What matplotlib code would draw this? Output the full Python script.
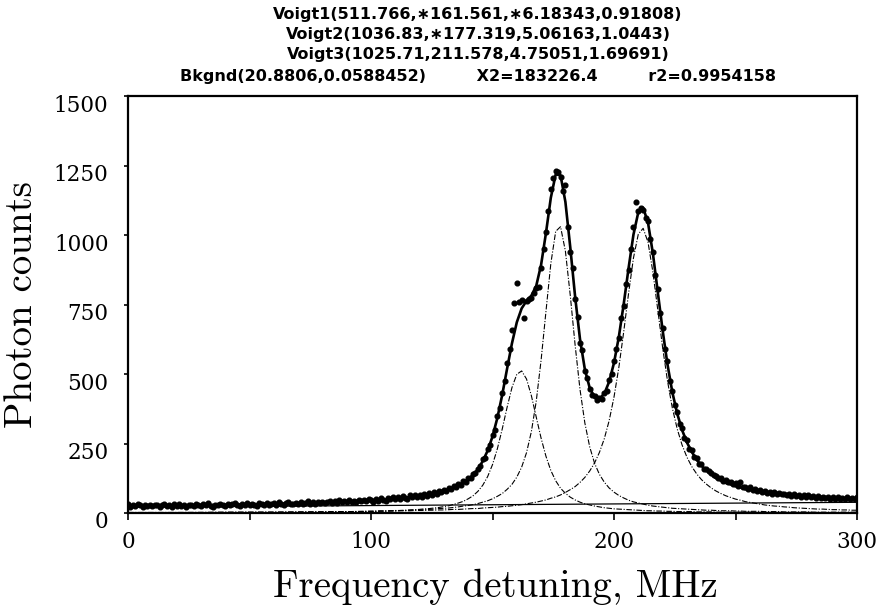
import numpy as np
import matplotlib
matplotlib.use("Agg")
import matplotlib.pyplot as plt
import matplotlib.transforms as mtransforms

# ---------------- data ----------------
# measured photon counts, one point per MHz from 0 to 300 MHz
freq = np.arange(0, 301)
counts = [
    31, 22, 28, 24, 33, 27, 21, 29, 26, 30,
    24, 30, 27, 21, 29, 33, 25, 28, 23, 31,
    26, 32, 24, 29, 22, 30, 28, 25, 33, 27,
    24, 31, 29, 35, 26, 23, 30, 27, 34, 28,
    25, 33, 28, 31, 36, 27, 24, 32, 29, 35,
    28, 34, 30, 26, 37, 31, 29, 35, 27, 33,
    36, 30, 38, 32, 29, 35, 40, 31, 34, 37,
    33, 39, 31, 37, 42, 34, 38, 32, 40, 36,
    41, 35, 39, 44, 37, 42, 36, 45, 39, 43,
    38, 46, 41, 44, 39, 48, 43, 47, 42, 50,
    48, 41, 52, 44, 55, 47, 43, 53, 49, 57,
    49, 58, 52, 61, 55, 50, 63, 56, 66, 58,
    65, 58, 70, 62, 73, 66, 77, 69, 80, 74,
    84, 79, 90, 86, 97, 92, 106, 101, 114, 112,
    127, 125, 142, 145, 160, 168, 195, 199, 230, 244,
    282, 300, 350, 378, 430, 475, 540, 590, 660, 755,
    827, 760, 765, 701, 762, 770, 775, 790, 810, 813,
    880, 950, 1010, 1085, 1165, 1205, 1232, 1225, 1210, 1160,
    1180, 1030, 940, 880, 770, 705, 611, 586, 510, 485,
    445, 425, 420, 405, 415, 410, 432, 440, 478, 500,
    545, 590, 628, 700, 745, 825, 875, 950, 1030, 1119,
    1085, 1097, 1090, 1060, 1050, 985, 940, 855, 805, 720,
    665, 590, 545, 475, 440, 390, 365, 320, 305, 270,
    262, 230, 228, 200, 198, 176, 175, 158, 160, 150,
    145, 135, 134, 126, 125, 116, 118, 110, 112, 104,
    108, 98, 112, 92, 95, 88, 92, 84, 87, 80,
    82, 74, 78, 72, 76, 70, 75, 68, 73, 67,
    70, 63, 68, 62, 67, 60, 66, 59, 64, 58,
    63, 56, 61, 55, 60, 54, 59, 53, 58, 52,
    57, 51, 56, 50, 55, 52, 57, 49, 55, 51, 56,
]

# frequencies at which the fitted curves are sampled
fit_freq = np.r_[0:100:20, 100:301:2]

fit_total = [
    25, 27, 29, 33, 37,
    45, 46, 48, 48, 50, 51, 54, 55, 57, 60,
    61, 64, 67, 70, 75, 80, 85, 93, 100, 110,
    122, 137, 157, 187, 224, 275, 342, 425, 519, 610,
    686, 736, 763, 782, 817, 893, 1007, 1134, 1218, 1215,
    1119, 956, 778, 626, 517, 450, 416, 411, 429, 472,
    540, 634, 752, 881, 1001, 1082, 1098, 1044, 934, 796,
    658, 535, 435, 358, 299, 254, 220, 192, 170, 153,
    139, 126, 116, 108, 103, 96, 92, 86, 83, 79,
    76, 72, 70, 69, 68, 65, 64, 62, 61, 60,
    59, 58, 57, 56, 55, 54, 54, 53, 53, 52,
    53,
]

voigt1 = [
    1, 1, 2, 2, 3,
    6, 6, 7, 7, 8, 9, 9, 10, 11, 12,
    13, 15, 16, 18, 20, 23, 26, 31, 36, 42,
    51, 62, 78, 100, 131, 174, 231, 302, 380, 451,
    499, 511, 482, 422, 345, 269, 204, 153, 116, 89,
    71, 57, 47, 39, 33, 29, 25, 22, 19, 17,
    15, 14, 13, 12, 11, 10, 9, 8, 8, 7,
    7, 6, 6, 5, 5, 5, 5, 4, 4, 4,
    4, 3, 3, 3, 3, 3, 3, 3, 3, 2,
    2, 2, 2, 2, 2, 2, 2, 2, 2, 2,
    2, 2, 2, 1, 1, 1, 1, 1, 1, 1,
    1,
]

voigt2 = [
    1, 1, 2, 3, 4,
    6, 7, 7, 7, 8, 8, 9, 9, 10, 11,
    11, 12, 13, 14, 16, 17, 18, 20, 22, 25,
    27, 30, 34, 39, 44, 51, 60, 70, 85, 103,
    129, 165, 217, 293, 402, 550, 725, 897, 1013, 1030,
    942, 783, 604, 445, 324, 238, 179, 139, 111, 90,
    75, 63, 54, 46, 40, 36, 32, 28, 25, 23,
    21, 19, 17, 16, 15, 14, 13, 12, 11, 10,
    10, 9, 8, 8, 8, 7, 7, 6, 6, 6,
    6, 5, 5, 5, 5, 4, 4, 4, 4, 4,
    4, 3, 3, 3, 3, 3, 3, 3, 3, 3,
    3,
]

voigt3 = [
    2, 2, 3, 3, 4,
    6, 6, 7, 7, 7, 7, 8, 8, 8, 9,
    9, 9, 10, 10, 11, 11, 12, 13, 13, 14,
    15, 16, 16, 18, 19, 20, 21, 23, 24, 26,
    28, 30, 33, 36, 39, 43, 47, 53, 58, 65,
    74, 84, 95, 110, 128, 151, 180, 218, 267, 332,
    417, 524, 652, 790, 917, 1003, 1024, 974, 867, 732,
    596, 476, 378, 303, 245, 201, 167, 141, 120, 104,
    90, 79, 70, 62, 56, 50, 46, 41, 38, 35,
    32, 29, 27, 25, 24, 22, 21, 19, 18, 17,
    16, 15, 14, 14, 13, 12, 12, 11, 11, 10,
    10,
]

bkg_freq = [0, 300]
bkg_counts = [20.9, 38.5]

title_lines = [
    "Voigt1(511.766,\u2217161.561,\u22176.18343,0.91808)",
    "Voigt2(1036.83,\u2217177.319,5.06163,1.0443)",
    "Voigt3(1025.71,211.578,4.75051,1.69691)",
    "Bkgnd(20.8806,0.0588452)         X2=183226.4         r2=0.9954158",
]
x_major = [0, 100, 200, 300]
x_minor = [50, 150, 250]
y_ticks = [0, 250, 500, 750, 1000, 1250, 1500]

# ---------------- figure ----------------
W, H = 885, 611
fig = plt.figure(figsize=(W / 100, H / 100), dpi=100)
ax = fig.add_axes([128 / W, (H - 513) / H, 729 / W, 417 / H])

dash = (0, (5, 1.5, 1, 1.5))
for comp in (voigt1, voigt2, voigt3):
    ax.plot(fit_freq, comp, color='black', lw=0.8, linestyle=dash, zorder=2)
ax.plot(bkg_freq, bkg_counts, color='black', lw=0.9, zorder=2)
ax.plot(fit_freq, fit_total, color='black', lw=1.9, zorder=3)
ax.plot(freq, counts, linestyle='none', marker='o', ms=3.4,
        color='black', mec='black', zorder=4)

ax.set_xlim(0, 300)
ax.set_ylim(0, 1500)

tick_font = dict(family='DejaVu Serif', size=15.5)
ax.set_xticks(x_major)
ax.set_xticks(x_minor, minor=True)
ax.set_xticklabels([str(v) for v in x_major], fontdict=tick_font)
ax.set_yticks(y_ticks)
ax.set_yticklabels([str(v) for v in y_ticks], fontdict=tick_font)
ax.tick_params(axis='x', which='both', direction='out', length=5, width=1.2, pad=8)
ax.tick_params(axis='y', which='both', direction='out', length=3, width=1.2, pad=11)
offset = mtransforms.ScaledTranslation(0, -7 / 100, fig.dpi_scale_trans)
for lab in ax.get_yticklabels():
    lab.set_transform(lab.get_transform() + offset)

for sp in ax.spines.values():
    sp.set_linewidth(1.6)

label_font = dict(family='cmr10', size=28)
fig.text(495 / W, 1 - 587 / H, "Frequency detuning, MHz", ha='center', va='center',
         fontdict=label_font)
fig.text(22 / W, 1 - 305 / H, "Photon counts", ha='center', va='center',
         rotation=90, fontdict=label_font)

title_y = [14, 35, 55, 76]
for txt, yy in zip(title_lines, title_y):
    fig.text(478 / W, 1 - yy / H, txt, ha='center', va='center',
             family='DejaVu Sans', fontsize=11.5, fontweight='bold')

fig.savefig("out.png", dpi=100)
